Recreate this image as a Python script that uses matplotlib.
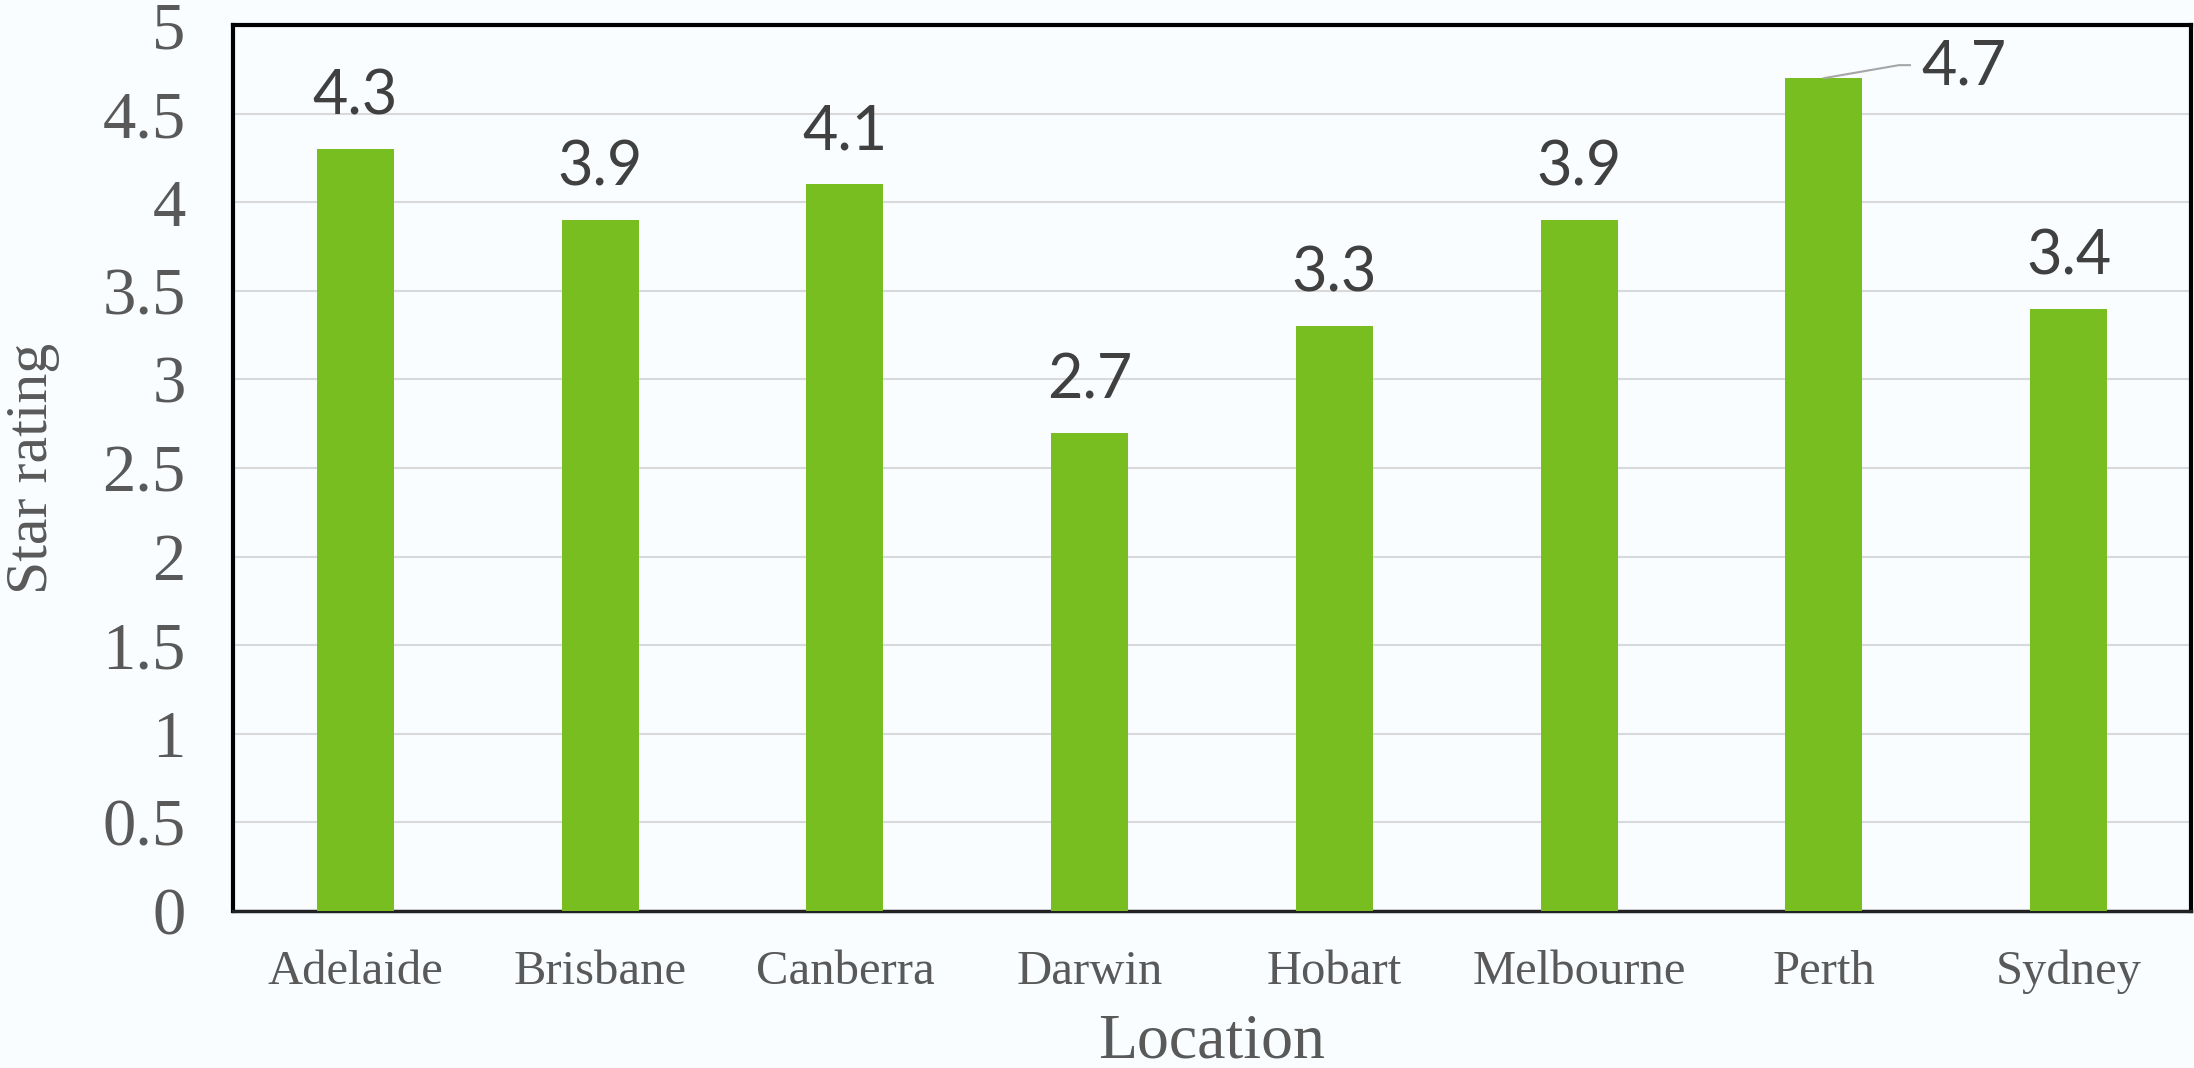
import matplotlib
matplotlib.use("Agg")
import matplotlib.pyplot as plt
from matplotlib.lines import Line2D

locations = ["Adelaide", "Brisbane", "Canberra", "Darwin", "Hobart", "Melbourne", "Perth", "Sydney"]
ratings = [4.3, 3.9, 4.1, 2.7, 3.3, 3.9, 4.7, 3.4]
yticks = [0, 0.5, 1, 1.5, 2, 2.5, 3, 3.5, 4, 4.5, 5]
ytick_labels = ["0", "0.5", "1", "1.5", "2", "2.5", "3", "3.5", "4", "4.5", "5"]

BG = "#F9FDFF"
BAR = "#78BE21"
TICK = "#595959"
LBL = "#404040"

fig = plt.figure(figsize=(21.94, 10.68), dpi=100, facecolor=BG)
ax = fig.add_axes([233/2194, (1068-911)/1068, (2191-233)/2194, (911-25)/1068])
ax.set_facecolor(BG)

x = list(range(len(locations)))
ax.bar(x, ratings, width=0.315, color=BAR, zorder=3)
ax.set_xlim(-0.5, len(locations) - 0.5)
ax.set_ylim(0, 5)

ax.set_yticks(yticks)
ax.set_yticklabels(ytick_labels, family="Liberation Serif", fontsize=48, color=TICK)
ax.set_xticks(x)
ax.set_xticklabels(locations, family="Liberation Serif", fontsize=35, color=TICK)
ax.tick_params(axis="y", length=0, pad=34)
ax.tick_params(axis="x", length=0, pad=28)
ax.grid(axis="y", color="#D9D9D9", linewidth=1.5, zorder=0)

for s in ["top", "left", "right"]:
    ax.spines[s].set_color("black")
    ax.spines[s].set_linewidth(3)
ax.spines["bottom"].set_color("#222222")
ax.spines["bottom"].set_linewidth(2.5)

ax.set_xlabel("Location", family="Liberation Serif", fontsize=46, color=TICK)
ax.set_ylabel("Star rating", family="Liberation Serif", fontsize=43, color=TICK)
ax.xaxis.set_label_coords(0.5, (911-1043)/886)
ax.yaxis.set_label_coords((33-233)/1958, 0.5)
ax.xaxis.label.set_va("center")
ax.yaxis.label.set_va("center")

for i, v in enumerate(ratings):
    if locations[i] == "Perth":
        ax.annotate(f"{v}", xy=(i, v), xytext=(140*0.72, 11*0.72), textcoords="offset points",
                    ha="center", va="center", fontsize=44, family="Lato", color=LBL, zorder=5)
        base = ax.transData.transform((i, v))
        xs = [base[0], base[0] + 75, base[0] + 86]
        ys = [base[1], base[1] + 13, base[1] + 13]
        fig.add_artist(Line2D(xs, ys, transform=None, color="#A6A6A6", linewidth=1.5, zorder=4))
    else:
        ax.annotate(f"{v}", xy=(i, v), xytext=(0, 52*0.72), textcoords="offset points",
                    ha="center", va="center", fontsize=44, family="Lato", color=LBL, zorder=5)

fig.savefig("out.png", dpi=100, facecolor=BG)
